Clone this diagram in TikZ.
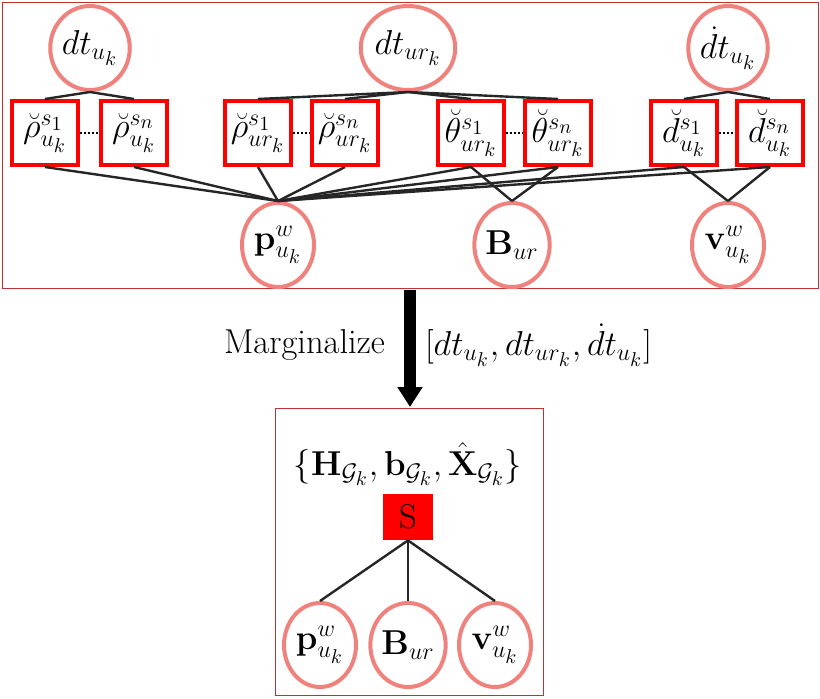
\documentclass[tikz,border=0pt]{standalone}
\usepackage{amsmath}
\usepackage{amssymb}
\usepackage{tikz}
\usetikzlibrary{shapes.geometric}
\usetikzlibrary{calc,arrows.meta}
\definecolor{pinkline}{RGB}{240,130,125}
\definecolor{frame}{RGB}{190,50,50}
\tikzset{
  var/.style={ellipse,draw=pinkline,line width=2pt,fill=white,minimum width=36pt,minimum height=42pt,inner sep=0pt,font=\LARGE},
  fac/.style={rectangle,draw=red,line width=2pt,fill=white,minimum width=33pt,minimum height=32pt,inner sep=0pt,font=\LARGE},
  edge/.style={line width=1.2pt,black!85}
}
\begin{document}
\begin{tikzpicture}[x=0.5pt,y=-0.5pt]
     \useasboundingbox (0,0) rectangle (820,698);
     %frames
     \draw[frame] (2,2) rectangle (818,288);
     \draw[frame] (275,408) rectangle (543,695);

     %variables
     \node[var] (dtu)  at (90,48)  {$dt_{u_k}$};
     \node[var] (dtur) at (408,48) {$dt_{ur_k}$};
     \node[var] (ddtu) at (728,48) {$\dot{d}t_{u_k}$};
     \node[var] (p)    at (278,245) {$\mathbf{p}^w_{u_k}$};
     \node[var] (B)    at (512,245) {$\mathbf{B}_{ur}$};
     \node[var] (v)    at (728,245) {$\mathbf{v}^w_{u_k}$};

     %factors
     \node[fac] (r1)  at (45,133)  {$\breve{\rho}^{s_1}_{u_k}$};
     \node[fac] (rn)  at (134,133) {$\breve{\rho}^{s_n}_{u_k}$};
     \node[fac] (q1)  at (258,133) {$\breve{\rho}^{s_1}_{ur_k}$};
     \node[fac] (qn)  at (345,133) {$\breve{\rho}^{s_n}_{ur_k}$};
     \node[fac] (t1)  at (471,133) {$\breve{\theta}^{s_1}_{ur_k}$};
     \node[fac] (tn)  at (558,133) {$\breve{\theta}^{s_n}_{ur_k}$};
     \node[fac] (d1)  at (684,133) {$\breve{d}^{s_1}_{u_k}$};
     \node[fac] (dn)  at (770,133) {$\breve{d}^{s_n}_{u_k}$};

     %edges
     \foreach \a/\b in {r1/rn,q1/qn,t1/tn,d1/dn}
       \draw[densely dotted,line width=1pt] (\a.east) -- (\b.west);
     \foreach \f in {r1,rn} \draw[edge] (dtu.south) -- (\f.north);
     \foreach \f in {q1,qn,t1,tn} \draw[edge] (dtur.south) -- (\f.north);
     \foreach \f in {d1,dn} \draw[edge] (ddtu.south) -- (\f.north);
     \foreach \f in {r1,rn,q1,qn,t1,tn,d1,dn} \draw[edge] (\f.south) -- (p.north);
     \foreach \f in {t1,tn} \draw[edge] (\f.south) -- (B.north);
     \foreach \f in {d1,dn} \draw[edge] (\f.south) -- (v.north);

     %marginalize
     \coordinate (mtop) at (410,290);
     \coordinate (mbot) at (410,407);
     \draw[line width=6pt,-{Triangle[length=10pt,width=12pt]}] (mtop) -- (mbot);
     \node[font=\LARGE,anchor=east] (marg) at (392,345) {Marginalize};
     \node[font=\LARGE,anchor=west] (mvars) at (418,345) {$[dt_{u_k},dt_{ur_k},\dot{d}t_{u_k}]$};

     %result
     \node[font=\LARGE] (set) at (408,464) {$\{\mathbf{H}_{\mathcal{G}_k},\mathbf{b}_{\mathcal{G}_k},\hat{\mathbf{X}}_{\mathcal{G}_k}\}$};
     \node[rectangle,fill=red,minimum width=25pt,minimum height=23pt,inner sep=0pt,font=\LARGE] (S) at (408,517) {S};
     \node[var] (p2) at (320,645) {$\mathbf{p}^w_{u_k}$};
     \node[var] (B2) at (408,645) {$\mathbf{B}_{ur}$};
     \node[var] (v2) at (495,645) {$\mathbf{v}^w_{u_k}$};
     \foreach \n in {p2,B2,v2} \draw[edge] (S.south) -- (\n.north);
\end{tikzpicture}
\end{document}
